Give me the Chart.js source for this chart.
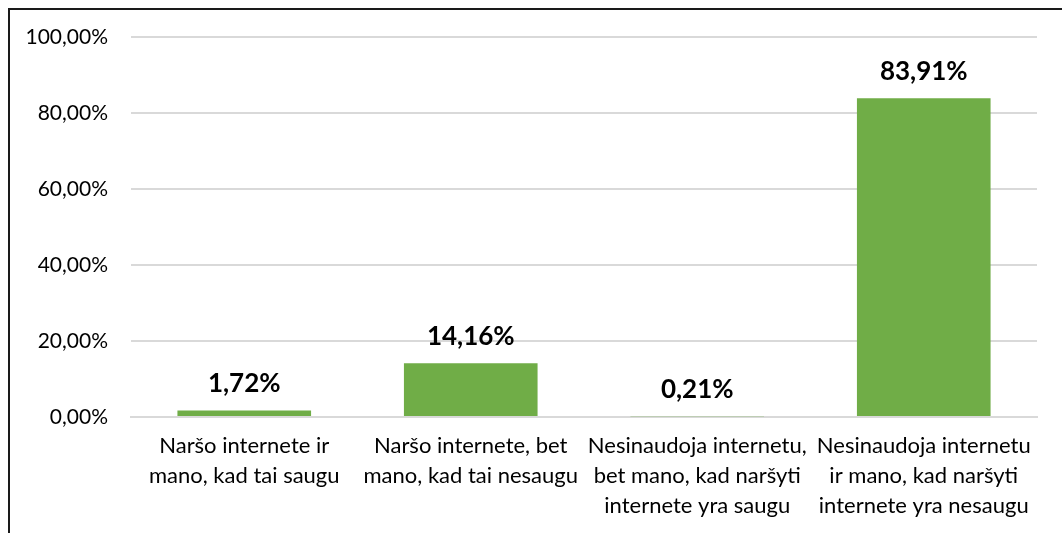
<!DOCTYPE html>
<html>
<head>
<meta charset="utf-8">
<script src="https://cdn.jsdelivr.net/npm/chart.js@4"></script>
<style>
  html, body { margin: 0; padding: 0; background: #fff; overflow: hidden; }
  #wrap { position: relative; width: 1062px; height: 533px; }
  #frame { position: absolute; left: 8px; top: 8px; width: 1200px; height: 700px; border: 2px solid #1a1a1a; box-sizing: border-box; }
  canvas { position: absolute; left: 0; top: 0; }
</style>
</head>
<body>
<div id="wrap">
  <div id="frame"></div>
  <canvas id="answersChart" width="1062" height="533"></canvas>
</div>
<script>
// Categories (axis labels, already broken into lines)
var categories = [
    ["Naršo internete ir", "mano, kad tai saugu"],
    ["Naršo internete, bet", "mano, kad tai nesaugu"],
    ["Nesinaudoja internetu,", "bet mano, kad naršyti", "internete yra saugu"],
    ["Nesinaudoja internetu", "ir mano, kad naršyti", "internete yra nesaugu"]
];

// Shares in percent
var shares = [1.72, 14.16, 0.21, 83.91];

// Y axis ticks
var yMin = 0;
var yMax = 100;
var yStep = 20;

function pct(v) {
    return v.toFixed(2).replace('.', ',') + '%';
}

// Draws value labels above each bar
var valueLabels = {
    id: 'valueLabels',
    afterDatasetsDraw: function (chart) {
        var ctx = chart.ctx;
        var meta = chart.getDatasetMeta(0);
        ctx.save();
        ctx.font = 'bold 26px Lato';
        ctx.fillStyle = '#000';
        ctx.textAlign = 'center';
        ctx.textBaseline = 'middle';
        meta.data.forEach(function (bar, i) {
            ctx.fillText(pct(shares[i]), bar.x, bar.y - 27);
        });
        ctx.restore();
    }
};

var ctx = document.getElementById("answersChart");

var answersChart = new Chart(ctx, {
    type: 'bar',
    data: {
        labels: categories,
        datasets: [
            {
                data: shares,
                backgroundColor: "#70AD47",
                barPercentage: 0.59,
                categoryPercentage: 1
            }
        ]
    },
    options: {
        responsive: false,
        animation: false,
        layout: { padding: { left: 9, right: 25, top: 37, bottom: 0 } },
        plugins: {
            legend: { display: false },
            tooltip: { enabled: false }
        },
        scales: {
            x: {
                grid: { display: false, drawTicks: false },
                border: { display: true, color: '#d9d9d9', width: 2 },
                ticks: {
                    color: '#000',
                    font: { family: 'Lato', size: 22, lineHeight: 1.37 },
                    padding: 14,
                    maxRotation: 0,
                    autoSkip: false
                },
                afterFit: function (axis) { axis.height = 116; }
            },
            y: {
                min: yMin,
                max: yMax,
                grid: { color: '#d9d9d9', lineWidth: 2, drawTicks: false },
                border: { display: false },
                ticks: {
                    stepSize: yStep,
                    color: '#000',
                    font: { family: 'Lato', size: 21 },
                    padding: 23,
                    callback: function (v) { return pct(v); }
                },
                afterFit: function (axis) { axis.width = 122; }
            }
        }
    },
    plugins: [valueLabels]
});
</script>
</body>
</html>
